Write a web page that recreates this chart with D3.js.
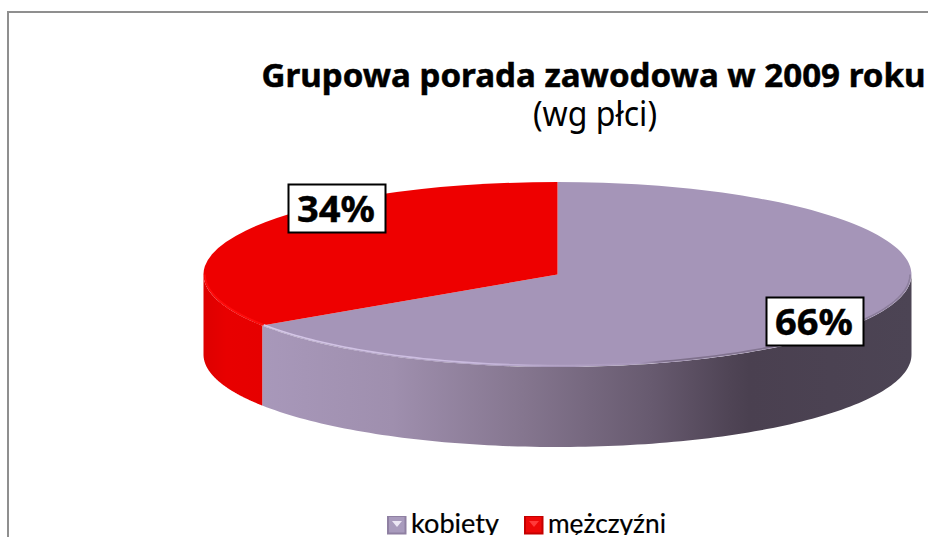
<!DOCTYPE html>
<html><head><meta charset="utf-8">
<script src="https://cdn.jsdelivr.net/npm/d3@7/dist/d3.min.js"></script>
<style>html,body{margin:0;padding:0;background:#fff;overflow:hidden}svg{display:block}</style>
</head><body><svg id="c" width="928" height="537"></svg>
<script>
const legendLabels = ["kobiety", "mężczyźni"];
const values = [65.7, 34.3];
const valueLabels = ["66%", "34%"];
const topColors = ["#a595b8", "#ee0000"];
const titleText = "Grupowa porada zawodowa w 2009 roku";
const subtitleText = "(wg płci)";

const svg = d3.select("#c");
const W = 928, H = 537;
const cx = 557.5, cy = 274.5, rx = 354, ry = 92.5, depth = 80;

const defs = svg.append("defs");
const g0 = defs.append("linearGradient").attr("id","sidePurple")
  .attr("gradientUnits","userSpaceOnUse").attr("x1",262).attr("x2",912).attr("y1",0).attr("y2",0);
[[0,"#a898ba"],[0.2,"#9f8fae"],[0.4,"#85768f"],[0.6,"#675a6f"],[0.72,"#4f4455"],[0.75,"#4a4050"],[1,"#4c4454"]]
  .forEach(([o,c])=>g0.append("stop").attr("offset",o).attr("stop-color",c));
const g1 = defs.append("linearGradient").attr("id","sideRed")
  .attr("gradientUnits","userSpaceOnUse").attr("x1",203).attr("x2",262).attr("y1",0).attr("y2",0);
[[0,"#dd0000"],[0.4,"#e80000"],[1,"#e60000"]]
  .forEach(([o,c])=>g1.append("stop").attr("offset",o).attr("stop-color",c));
const rimG = defs.append("linearGradient").attr("id","rimPurple")
  .attr("gradientUnits","userSpaceOnUse").attr("x1",262).attr("x2",912).attr("y1",0).attr("y2",0);
[[0,"#d6c8e8"],[0.33,"#c9bade"],[0.45,"#b3a3c6"],[0.58,"#a898bb"],[0.62,"#7d6f8a"],[1,"#8d7f9d"]]
  .forEach(([o,c])=>rimG.append("stop").attr("offset",o).attr("stop-color",c));
defs.append("clipPath").attr("id","pageClip").append("rect").attr("x",0).attr("y",0).attr("width",W).attr("height",535);

// chart frame
svg.append("path").attr("d",`M8,${H} V12 H${W}`).attr("fill","none").attr("stroke","#8f8f8f").attr("stroke-width",2);

const pie = d3.pie().sort(null).value(d=>d).startAngle(0).endAngle(2*Math.PI);
const arcs = pie(values);
const X = a => cx + rx*Math.sin(a), Y = a => cy - ry*Math.cos(a);
const line = d3.line();
const samples = (a0,a1) => d3.range(0,121).map(i=>a0+(a1-a0)*i/120);

arcs.forEach((d,i)=>{
  const a0 = Math.max(d.startAngle, Math.PI/2), a1 = Math.min(d.endAngle, 3*Math.PI/2);
  if (a1<=a0) return;
  const s = samples(a0,a1);
  const pts = s.map(a=>[X(a),Y(a)]).concat(s.slice().reverse().map(a=>[X(a),Y(a)+depth]));
  svg.append("path").attr("d",line(pts)+"Z").attr("fill",i===0?"url(#sidePurple)":"url(#sideRed)");
});

const arcGen = d3.arc().innerRadius(0).outerRadius(1);
svg.append("g").attr("transform",`translate(${cx},${cy}) scale(${rx},${ry})`)
  .selectAll("path").data(arcs).join("path").attr("d",arcGen).attr("fill",(d,i)=>topColors[i]);

// bright rim just inside the front edge
arcs.forEach((d,i)=>{
  const a0 = Math.max(d.startAngle, Math.PI/2), a1 = Math.min(d.endAngle, 3*Math.PI/2);
  const rim = samples(a0,a1).map(a=>[cx+(rx-1.5)*Math.sin(a), cy-(ry-1.5)*Math.cos(a)]);
  svg.append("path").attr("d",line(rim)).attr("fill","none")
    .attr("stroke",i===0?"url(#rimPurple)":"#ff0c0c").attr("stroke-width",1.6);
});

// title
const fam = "'Noto Sans','Open Sans',sans-serif";
svg.append("text").attr("x",593.5).attr("y",86.5).attr("text-anchor","middle")
  .attr("font-family",fam).attr("font-weight","bold").attr("font-size",33)
  .attr("textLength",664).attr("lengthAdjust","spacingAndGlyphs").attr("fill","#000")
  .attr("stroke","#000").attr("stroke-width",0.5).text(titleText);
svg.append("text").attr("x",595).attr("y",126).attr("text-anchor","middle")
  .attr("font-family",fam).attr("font-size",34)
  .attr("textLength",124).attr("lengthAdjust","spacingAndGlyphs").attr("fill","#000").text(subtitleText);

// data labels
const labelPos = [[815,321.5],[337,208.5]];
valueLabels.forEach((t,i)=>{
  const [lx,ly] = labelPos[i];
  svg.append("rect").attr("x",lx-48.5).attr("y",ly-24).attr("width",97).attr("height",48)
    .attr("fill","#fff").attr("stroke","#000").attr("stroke-width",2);
  svg.append("text").attr("x",lx-1).attr("y",ly+13).attr("text-anchor","middle")
    .attr("font-family",fam).attr("font-weight","bold").attr("font-size",36)
    .attr("textLength",78).attr("lengthAdjust","spacingAndGlyphs").attr("fill","#000")
    .attr("stroke","#000").attr("stroke-width",0.4).text(t);
});

// legend
const lf = "Lato,'Open Sans',sans-serif";
const legendX = [[387,411,88],[524,548,118]];
const swatch = [["#a99bbd","#8f80a2","#ece6f4"],["#ee0808","#c40000","#ff3a3a"]];
legendLabels.forEach((t,i)=>{
  const [sx,tx,tw] = legendX[i];
  const [base,edge,glow] = swatch[i];
  svg.append("rect").attr("x",sx).attr("y",516).attr("width",19.5).attr("height",18.5).attr("fill",edge);
  svg.append("rect").attr("x",sx+2).attr("y",517).attr("width",15.5).attr("height",15.5).attr("fill",base);
  svg.append("path").attr("d",`M${sx+5},${521} H${sx+15} L${sx+10},${527} Z`).attr("fill",glow);
  svg.append("text").attr("x",tx).attr("y",533).attr("font-family",lf).attr("font-size",27.5)
    .attr("textLength",tw).attr("lengthAdjust","spacingAndGlyphs").attr("clip-path","url(#pageClip)")
    .attr("stroke","#000").attr("stroke-width",0.2).attr("fill","#000").text(t);
});
</script></body></html>
